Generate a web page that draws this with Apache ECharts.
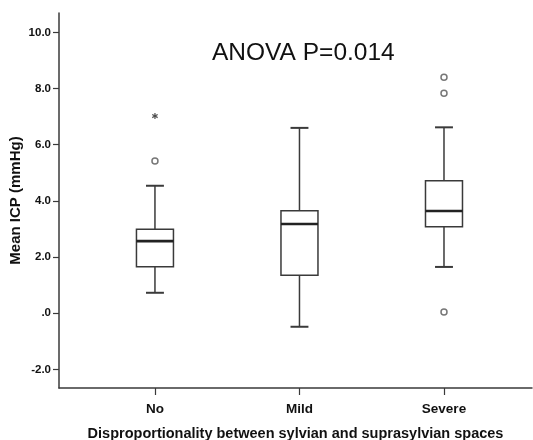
<!DOCTYPE html>
<html>
<head>
<meta charset="utf-8">
<script src="https://cdn.jsdelivr.net/npm/echarts@6/dist/echarts.min.js"></script>
<style>
  html, body { margin: 0; padding: 0; background: #fff; }
  #chart { width: 533px; height: 440px; }
</style>
</head>
<body>
<div id="chart"></div>
<script>
// box summary per group
const categories = ["No", "Mild", "Severe"];
const lowerWhisker = [0.73, -0.48, 1.65];
const q1 = [1.66, 1.35, 3.08];
const median = [2.57, 3.18, 3.64];
const q3 = [2.99, 3.65, 4.72];
const upperWhisker = [4.54, 6.6, 6.62];

// outliers (circles) and extreme value (star)
const outlierGroup = [1, 3, 3, 3];
const outlierValue = [5.42, 8.4, 7.83, 0.05];
const extremeGroup = [1];
const extremeValue = [7.02];

const yTicks = [-2, 0, 2, 4, 6, 8, 10];
const xTicks = [1, 2, 3];

const FONT = "Liberation Sans, Arial, sans-serif";
const LINE = "#3a3a3a";

const boxData = categories.map((c, i) => [
  i + 1, lowerWhisker[i], q1[i], median[i], q3[i], upperWhisker[i]
]);

function renderBox(params, api) {
  const x = api.value(0);
  const p = (v) => api.coord([x, v]);
  const lo = p(api.value(1));
  const b1 = p(api.value(2));
  const md = p(api.value(3));
  const b3 = p(api.value(4));
  const hi = p(api.value(5));
  const left = api.coord([x - 0.128, 0])[0];
  const right = api.coord([x + 0.128, 0])[0];
  const capL = api.coord([x - 0.062, 0])[0];
  const capR = api.coord([x + 0.062, 0])[0];
  const cx = lo[0];
  const st = { stroke: LINE, lineWidth: 1.5, fill: null };
  return {
    type: "group",
    children: [
      { type: "line", shape: { x1: cx, y1: hi[1], x2: cx, y2: b3[1] }, style: st },
      { type: "line", shape: { x1: cx, y1: b1[1], x2: cx, y2: lo[1] }, style: st },
      { type: "line", shape: { x1: capL, y1: hi[1], x2: capR, y2: hi[1] }, style: { stroke: LINE, lineWidth: 2 } },
      { type: "line", shape: { x1: capL, y1: lo[1], x2: capR, y2: lo[1] }, style: { stroke: LINE, lineWidth: 2 } },
      {
        type: "rect",
        shape: { x: left, y: b3[1], width: right - left, height: b1[1] - b3[1] },
        style: { stroke: LINE, lineWidth: 1.5, fill: "#fff" }
      },
      { type: "line", shape: { x1: left, y1: md[1], x2: right, y2: md[1] }, style: { stroke: "#222", lineWidth: 2.6 } }
    ]
  };
}

const chart = echarts.init(document.getElementById("chart"));

chart.setOption({
  animation: false,
  backgroundColor: "#fff",
  title: {
    text: "ANOVA P=0.014",
    left: 207,
    top: 36,
    textStyle: { fontFamily: FONT, fontSize: 24.5, fontWeight: "normal", color: "#111" }
  },
  grid: { left: 59, right: 1, top: 13, bottom: 52, containLabel: false, outerBoundsMode: "none" },
  xAxis: {
    type: "value",
    min: 0.336,
    max: 3.609,
    name: "Disproportionality between sylvian and suprasylvian spaces",
    nameLocation: "middle",
    nameGap: 38,
    nameMoveOverlap: false,
    nameTextStyle: { fontFamily: FONT, fontSize: 14.5, fontWeight: "bold", color: "#111" },
    axisLine: { onZero: false, lineStyle: { color: LINE, width: 1.5 } },
    axisTick: { show: true, customValues: xTicks, length: 7, lineStyle: { color: LINE, width: 1.2 } },
    axisLabel: {
      customValues: xTicks,
      formatter: (v) => categories[Math.round(v) - 1],
      margin: 14,
      fontFamily: FONT, fontSize: 13.5, fontWeight: "bold", color: "#111"
    },
    splitLine: { show: false }
  },
  yAxis: {
    type: "value",
    min: -2.66,
    max: 10.69,
    name: "Mean ICP (mmHg)",
    nameLocation: "middle",
    nameGap: 36,
    nameMoveOverlap: false,
    nameTextStyle: { fontFamily: FONT, fontSize: 15, fontWeight: "bold", color: "#111" },
    axisLine: { show: true, onZero: false, lineStyle: { color: LINE, width: 1.5 } },
    axisTick: { show: true, customValues: yTicks, length: 6, lineStyle: { color: LINE, width: 1.2 } },
    axisLabel: {
      customValues: yTicks,
      formatter: (v) => (v === 0 ? ".0" : v.toFixed(1)),
      margin: 8,
      fontFamily: FONT, fontSize: 11.5, fontWeight: "bold", color: "#111"
    },
    splitLine: { show: false }
  },
  series: [
    {
      type: "custom",
      renderItem: renderBox,
      data: boxData,
      encode: { x: 0, y: [1, 2, 3, 4, 5] },
      z: 2
    },
    {
      type: "scatter",
      data: outlierGroup.map((g, i) => [g, outlierValue[i]]),
      symbol: "circle",
      symbolSize: 6,
      itemStyle: { color: "#fff", borderColor: "#555", borderWidth: 1.5 },
      z: 3
    },
    {
      type: "scatter",
      data: extremeGroup.map((g, i) => [g, extremeValue[i]]),
      symbol: "path://M4,0 L6,0 L6,3.3 L9,1.6 L10,3.3 L7,5 L10,6.7 L9,8.4 L6,6.7 L6,10 L4,10 L4,6.7 L1,8.4 L0,6.7 L3,5 L0,3.3 L1,1.6 L4,3.3 Z",
      symbolSize: 6,
      itemStyle: { color: "#222" },
      z: 3
    }
  ]
});
</script>
</body>
</html>
